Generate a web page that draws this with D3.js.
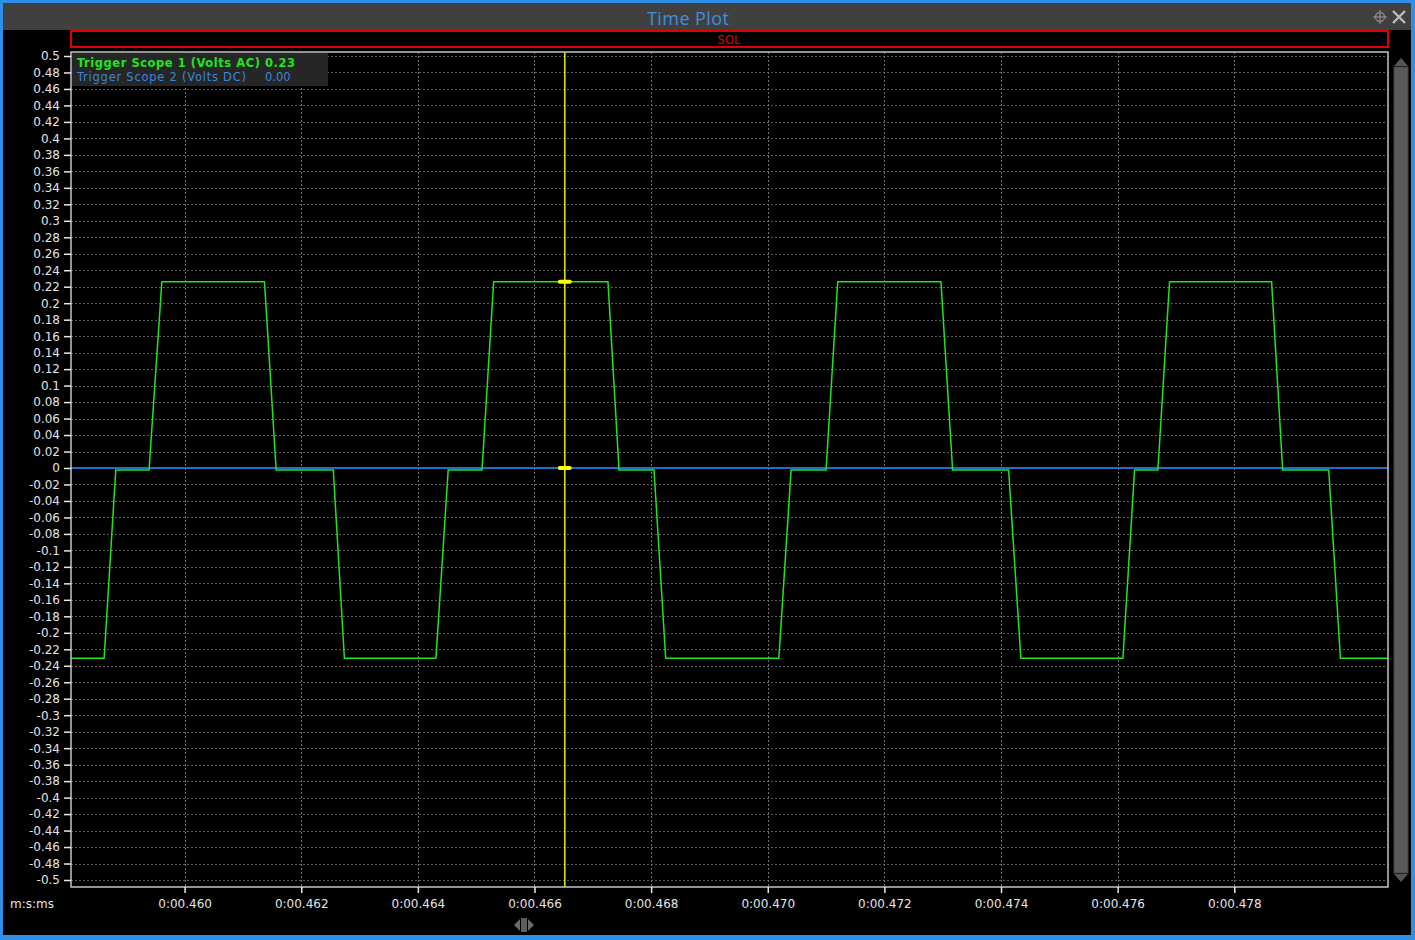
<!DOCTYPE html>
<html>
<head>
<meta charset="utf-8">
<script src="https://cdn.jsdelivr.net/npm/d3@7"></script>
<style>
  html, body { margin: 0; padding: 0; background: #000; }
  svg { display: block; }
</style>
</head>
<body>
<div class="vis-timeplot"></div>
<script>
// time in ms, values in volts
const scope1Times = [458.05, 458.62, 458.82, 459.39, 459.61, 461.37, 461.57, 462.55, 462.74, 464.31, 464.52,
  465.10, 465.30, 467.26, 467.45, 468.05, 468.25, 470.19, 470.40, 471.00, 471.20, 472.97, 473.17,
  474.13, 474.34, 476.09, 476.29, 476.69, 476.89, 478.64, 478.83, 479.62, 479.82, 480.64];
const scope1Values = [-0.231, -0.231, -0.0025, -0.0025, 0.226, 0.226, -0.0025, -0.0025, -0.231, -0.231, -0.0025,
  -0.0025, 0.226, 0.226, -0.0025, -0.0025, -0.231, -0.231, -0.0025, -0.0025, 0.226, 0.226, -0.0025,
  -0.0025, -0.231, -0.231, -0.0025, -0.0025, 0.226, 0.226, -0.0025, -0.0025, -0.231, -0.231];
const scope2Times = [458.05, 480.64];
const scope2Values = [0, 0];

const cursorTime = 466.52;
const legendNames = ["Trigger Scope 1 (Volts AC)", "Trigger Scope 2 (Volts DC)"];
const legendReadings = ["0.23", "0.00"];

const xTickValues = [460, 462, 464, 466, 468, 470, 472, 474, 476, 478];
const xTickLabels = ["0:00.460", "0:00.462", "0:00.464", "0:00.466", "0:00.468",
  "0:00.470", "0:00.472", "0:00.474", "0:00.476", "0:00.478"];
const yTickValues = d3.range(-25, 26).map(i => i / 50);
const yTickLabels = yTickValues.map(v => String(parseFloat(v.toFixed(2))));

const W = 1415, H = 940;
const blue = "#2f8ee8", green = "#1ee61e", traceBlue = "#1f6fc2";
const tickFont = "'DejaVu Sans', sans-serif";

const svg = d3.select(".vis-timeplot").append("svg")
  .attr("width", W).attr("height", H)
  .style("font-family", tickFont);

// window frame
svg.append("rect").attr("x", 0).attr("y", 0).attr("width", W).attr("height", H).attr("fill", blue);
svg.append("rect").attr("x", 3).attr("y", 3).attr("width", W - 7).attr("height", H - 8).attr("fill", "#000");
svg.append("rect").attr("x", 3).attr("y", 3).attr("width", W - 7).attr("height", 27).attr("fill", "#404040");
svg.append("text").attr("x", 688).attr("y", 25).attr("text-anchor", "middle")
  .attr("fill", "#3d8fe0").style("font-size", "18px").style("font-family", "'Open Sans', sans-serif")
  .attr("textLength", 82).text("Time Plot");

// title bar icons
const ic = svg.append("g").attr("stroke", "#8a8a8a").attr("fill", "none");
ic.append("circle").attr("cx", 1380).attr("cy", 17).attr("r", 4.5).attr("stroke-width", 1.3);
ic.append("line").attr("x1", 1373).attr("x2", 1387).attr("y1", 17).attr("y2", 17).attr("stroke-width", 1.3);
ic.append("line").attr("x1", 1380).attr("x2", 1380).attr("y1", 10).attr("y2", 24).attr("stroke-width", 1.3);
ic.append("path").attr("d", "M1393,11L1405,23M1405,11L1393,23").attr("stroke", "#bbb").attr("stroke-width", 2.4);

// SOL bar
svg.append("rect").attr("x", 71).attr("y", 31).attr("width", 1317).attr("height", 16)
  .attr("fill", "#000").attr("stroke", "#e00000").attr("stroke-width", 2);
svg.append("text").attr("x", 729).attr("y", 43.5).attr("text-anchor", "middle")
  .attr("fill", "#e00000").style("font-size", "11.5px").text("SOL");

const margin = { left: 71, right: 1388, top: 52, bottom: 887 };

let x = d3.scaleLinear().domain([458.052, 480.636]).range([margin.left, margin.right]);
let y = d3.scaleLinear().domain([-0.5, 0.5]).range([880, 56]);

const plot = svg.append("g");

// grid
plot.selectAll(".hgrid").data(yTickValues).enter().append("line")
  .attr("x1", margin.left).attr("x2", margin.right)
  .attr("y1", d => Math.round(y(d)) + 0.5).attr("y2", d => Math.round(y(d)) + 0.5)
  .attr("stroke", "#5a5a5a").attr("stroke-dasharray", "2,2");
plot.selectAll(".vgrid").data(xTickValues).enter().append("line")
  .attr("y1", margin.top).attr("y2", margin.bottom)
  .attr("x1", d => Math.round(x(d)) + 0.5).attr("x2", d => Math.round(x(d)) + 0.5)
  .attr("stroke", "#707070").attr("stroke-dasharray", "2,2");

// legend
svg.append("rect").attr("x", 72).attr("y", 53).attr("width", 256).attr("height", 33).attr("fill", "#262626");
svg.append("text").attr("x", 77).attr("y", 66.5).attr("fill", green)
  .style("font-size", "11.5px").style("font-weight", "bold")
  .attr("textLength", 218).text(legendNames[0] + " " + legendReadings[0]);
svg.append("text").attr("x", 77).attr("y", 80.5).attr("fill", "#3a86d8")
  .style("font-size", "11.5px").attr("textLength", 169).text(legendNames[1]);
svg.append("text").attr("x", 265).attr("y", 80.5).attr("fill", "#3a86d8")
  .style("font-size", "11.5px").text(legendReadings[1]);

// traces
const line = d3.line().x(d => x(d[0])).y(d => y(d[1]));
plot.append("path").datum(d3.zip(scope2Times, scope2Values))
  .attr("fill", "none").attr("stroke", traceBlue).attr("stroke-width", 2).attr("d", line);
plot.append("path").datum(d3.zip(scope1Times, scope1Values))
  .attr("fill", "none").attr("stroke", green).attr("stroke-width", 1.5).attr("d", line);

// cursor
const cx = x(cursorTime);
plot.append("line").attr("x1", cx).attr("x2", cx).attr("y1", margin.top).attr("y2", margin.bottom)
  .attr("stroke", "#f0f000").attr("stroke-width", 1.5);
const cursorVals = [scope1Values[12], scope2Values[0]];
plot.selectAll(".marker").data(cursorVals).enter().append("rect")
  .attr("x", cx - 7).attr("y", d => y(d) - 2).attr("width", 14).attr("height", 4).attr("rx", 2)
  .attr("fill", "#ffff00");

// frame
svg.append("rect").attr("x", margin.left).attr("y", margin.top)
  .attr("width", margin.right - margin.left).attr("height", margin.bottom - margin.top)
  .attr("fill", "none").attr("stroke", "#c4c4c4").attr("stroke-width", 1.5);

// axes
const yAxis = svg.append("g").attr("transform", "translate(" + margin.left + ",0)")
  .call(d3.axisLeft(y).tickValues(yTickValues).tickFormat((d, i) => yTickLabels[i]).tickSize(7).tickPadding(4));
yAxis.select(".domain").remove();
yAxis.selectAll("line").attr("stroke", "#e8e8e8").attr("stroke-width", 1.5);
yAxis.selectAll("text").attr("fill", "#e4e4e4").style("font-size", "12px")
  .style("font-family", tickFont);

const xAxis = svg.append("g").attr("transform", "translate(0," + margin.bottom + ")")
  .call(d3.axisBottom(x).tickValues(xTickValues).tickFormat((d, i) => xTickLabels[i]).tickSize(6).tickPadding(6));
xAxis.select(".domain").remove();
xAxis.selectAll("line").attr("stroke", "#e8e8e8").attr("stroke-width", 1.5);
xAxis.selectAll("text").attr("fill", "#e4e4e4").style("font-size", "12px")
  .style("font-family", tickFont);

svg.append("text").attr("x", 10).attr("y", 908).attr("fill", "#e4e4e4").style("font-size", "12px").text("m:s:ms");

// scrollbar
svg.append("path").attr("d", "M1394,66L1401,58L1408,66Z").attr("fill", "#555");
svg.append("rect").attr("x", 1394).attr("y", 67).attr("width", 14).attr("height", 806).attr("fill", "#5a5a5a")
  .attr("stroke", "#444");
svg.append("path").attr("d", "M1394,874L1408,874L1401,882Z").attr("fill", "#555");

// bottom pan handle
svg.append("path").attr("d", "M514,925L520,919L520,931Z").attr("fill", "#6a6a6a");
svg.append("path").attr("d", "M534,925L528,919L528,931Z").attr("fill", "#6a6a6a");
svg.append("rect").attr("x", 521).attr("y", 918).attr("width", 6).attr("height", 14).attr("fill", "#5e5e5e");
</script>
</body>
</html>
